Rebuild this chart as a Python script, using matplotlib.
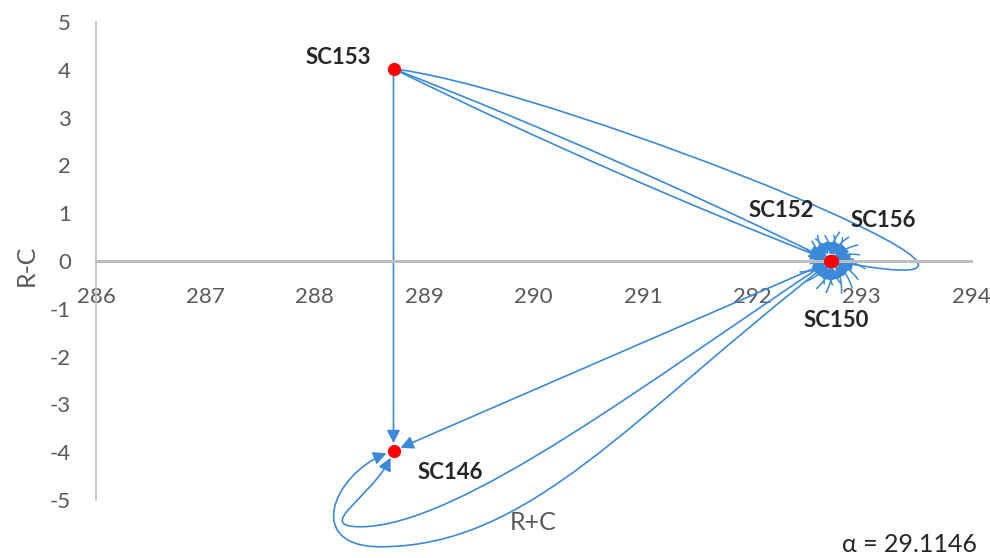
import numpy as np
import matplotlib
matplotlib.use("Agg")
import matplotlib.pyplot as plt
from matplotlib.patches import FancyArrowPatch, ArrowStyle
from matplotlib.path import Path

plt.rcParams['font.family'] = ['Lato', 'DejaVu Sans']
plt.rcParams['axes.unicode_minus'] = False

# ---- data -------------------------------------------------------------
states = ["SC153", "SC146", "SC150", "SC152", "SC156"]
r_plus_c = [288.72, 288.72, 292.72, 292.71, 292.73]
r_minus_c = [4.02, -3.97, 0.00, 0.01, 0.01]

# transitions between distant states (from -> to)
jump_from = ["SC153", "SC153", "SC153", "SC153", "SC150", "SC152", "SC156"]
jump_to = ["SC146", "SC152", "SC150", "SC156", "SC146", "SC146", "SC146"]

# successive states while staying inside the SC150 / SC152 / SC156 group
cluster_walk = ["SC150", "SC152", "SC150", "SC156", "SC150", "SC152", "SC156",
                "SC152", "SC150", "SC156", "SC152", "SC156", "SC150", "SC152",
                "SC150", "SC156", "SC150", "SC152", "SC156", "SC152", "SC150",
                "SC156", "SC152", "SC156", "SC150", "SC152", "SC150", "SC156",
                "SC152", "SC150"]

alpha_value = 29.1146

x_ticks = list(range(286, 295))
y_ticks = list(range(-5, 6))

# ---- styling ----------------------------------------------------------
BLUE = "#3B8AD9"
RED = "#FF0000"
GRID = "#BFBFBF"
TXT = "#595959"

# connector shapes.  "bow": sideways bulge as a fraction of the chord.
# otherwise Bezier handles given as pixel offsets (x right, y down) from the
# start node (c1), the end node (tip, c4) and the loop tip (c2, c3).
edge_shape = {
    ("SC153", "SC146"): {"bow": 0.0},
    ("SC153", "SC152"): {"bow": 0.014},
    ("SC153", "SC150"): {"bow": -0.014},
    ("SC153", "SC156"): {"c1": (165, 20), "c4": (300, 58)},
    ("SC150", "SC146"): {"bow": 0.0},
    ("SC152", "SC146"): {"c1": (-170, 112), "tip": (-33, 76),
                         "c2": (100, 0), "c3": (-50, 0), "c4": (-16, 44)},
    ("SC156", "SC146"): {"c1": (-200, 155), "tip": (-13, 96),
                         "c2": (150, 0), "c3": (-80, 0), "c4": (-58, 18)},
}

label_offsets = {
    "SC153": (-40, 8),
    "SC146": (41, -16),
    "SC152": (-35, 36),
    "SC156": (37, 29),
    "SC150": (4, -43),
}

fig = plt.figure(figsize=(9.9, 5.58), dpi=100)
ax = fig.add_axes([96 / 990, 1 - 500 / 558, 875 / 990, 478 / 558])
ax.set_xlim(286, 294)
ax.set_ylim(-5, 5)
ax.set_xticks(x_ticks)
ax.set_yticks(y_ticks)

for s in ("top", "right"):
    ax.spines[s].set_visible(False)
ax.spines["left"].set_color(GRID)
ax.spines["left"].set_linewidth(1.2)
ax.spines["bottom"].set_position(("data", 0))
ax.spines["bottom"].set_color(GRID)
ax.spines["bottom"].set_linewidth(2.2)
ax.tick_params(length=0, labelsize=16, labelcolor=TXT)
ax.tick_params(axis="x", pad=19)
ax.tick_params(axis="y", pad=18)

ax.set_xlabel("R+C", fontsize=18, color=TXT)
ax.xaxis.set_label_coords(0.5, -0.022)
ax.set_ylabel("R-C", fontsize=18, color=TXT)
ax.yaxis.set_label_coords(-0.067, 0.49)

pos = {n: (x, y) for n, x, y in zip(states, r_plus_c, r_minus_c)}
to_disp = ax.transData.transform
to_data = ax.transData.inverted().transform
px = fig.dpi / 100.0


def off(v):
    """pixel offset (x right, y down) -> display vector"""
    return np.array([v[0], -v[1]]) * px


def bez(ctrl, t):
    t = np.asarray(t)[:, None]
    return ((1 - t) ** 3 * ctrl[0] + 3 * (1 - t) ** 2 * t * ctrl[1]
            + 3 * (1 - t) * t ** 2 * ctrl[2] + t ** 3 * ctrl[3])


def split(ctrl, t):
    p0, p1, p2, p3 = ctrl
    a = p0 + (p1 - p0) * t
    b = p1 + (p2 - p1) * t
    c = p2 + (p3 - p2) * t
    d = a + (b - a) * t
    e = b + (c - b) * t
    f = d + (e - d) * t
    return np.array([p0, a, d, f]), np.array([f, e, c, p3])


def trim_start(ctrl, r):
    if r <= 0:
        return ctrl
    ts = np.linspace(0, 1, 3001)
    d = np.hypot(*(bez(ctrl, ts) - ctrl[0]).T)
    return split(ctrl, ts[np.argmax(d >= r)])[1]


def trim_end(ctrl, r):
    if r <= 0:
        return ctrl
    ts = np.linspace(0, 1, 3001)
    d = np.hypot(*(bez(ctrl, ts) - ctrl[3]).T)
    return split(ctrl, ts[len(ts) - 1 - np.argmax(d[::-1] >= r)])[0]


def segments_for(P, Q, shape):
    if "bow" in shape:
        d = Q - P
        L = np.hypot(*d)
        u = d / L
        nrm = np.array([-u[1], u[0]])
        b = shape["bow"]
        return [np.array([P, P + L * (u / 3 + b * nrm),
                          Q + L * (-u / 3 + b * nrm), Q])]
    if "tip" in shape:
        T = Q + off(shape["tip"])
        return [np.array([P, P + off(shape["c1"]), T + off(shape["c2"]), T]),
                np.array([T, T + off(shape["c3"]), Q + off(shape["c4"]), Q])]
    return [np.array([P, P + off(shape["c1"]), Q + off(shape["c4"]), Q])]


def draw_connector(P, Q, shape, ra, rb, lw=1.2, scale=14):
    segs = segments_for(P, Q, shape)
    segs[0] = trim_start(segs[0], ra)
    segs[-1] = trim_end(segs[-1], rb)
    verts = [segs[0][0]]
    codes = [Path.MOVETO]
    for s in segs:
        verts.extend(s[1:])
        codes.extend([Path.CURVE4] * 3)
    path = Path(to_data(np.array(verts)), codes)
    arr = FancyArrowPatch(path=path,
                          arrowstyle=ArrowStyle("-|>", head_length=0.55, head_width=0.28),
                          mutation_scale=scale, lw=lw, color=BLUE, zorder=2,
                          clip_on=False)
    ax.add_patch(arr)


# long transitions
for a, b in zip(jump_from, jump_to):
    P = to_disp(pos[a])
    Q = to_disp(pos[b])
    ra = 7 * px if a in ("SC153", "SC146") else 4 * px
    draw_connector(P, Q, edge_shape[(a, b)], ra, 7.5 * px)

# short hops inside the cluster, fanned out around the common point
spike_len = [30, 22, 34, 26, 32, 21, 28, 24]
for k, (a, b) in enumerate(zip(cluster_walk[:-1], cluster_walk[1:])):
    Q = to_disp(pos[b])
    ang = np.deg2rad(11 + k * 137.5)
    r = spike_len[k % len(spike_len)] * px
    start = Q + r * np.array([np.cos(ang), np.sin(ang)])
    bend = 0.12 if k % 2 else -0.12
    draw_connector(start, Q, {"bow": bend}, 0, 6 * px, lw=1.1, scale=13)

ax.plot(r_plus_c, r_minus_c, "o", ms=9.5, color=RED, mec="none", zorder=5)

for name, (dx, dy) in label_offsets.items():
    ax.annotate(name, pos[name], xytext=(dx, dy), textcoords="offset points",
                ha="center", va="center", fontsize=16, fontweight="bold",
                color="#262626", zorder=6)

fig.text(910 / 990, 1 - 545 / 558, f"\u03b1 = {alpha_value}", ha="center",
         va="center", fontsize=18, color="#262626")

fig.savefig("out.png", dpi=100)
